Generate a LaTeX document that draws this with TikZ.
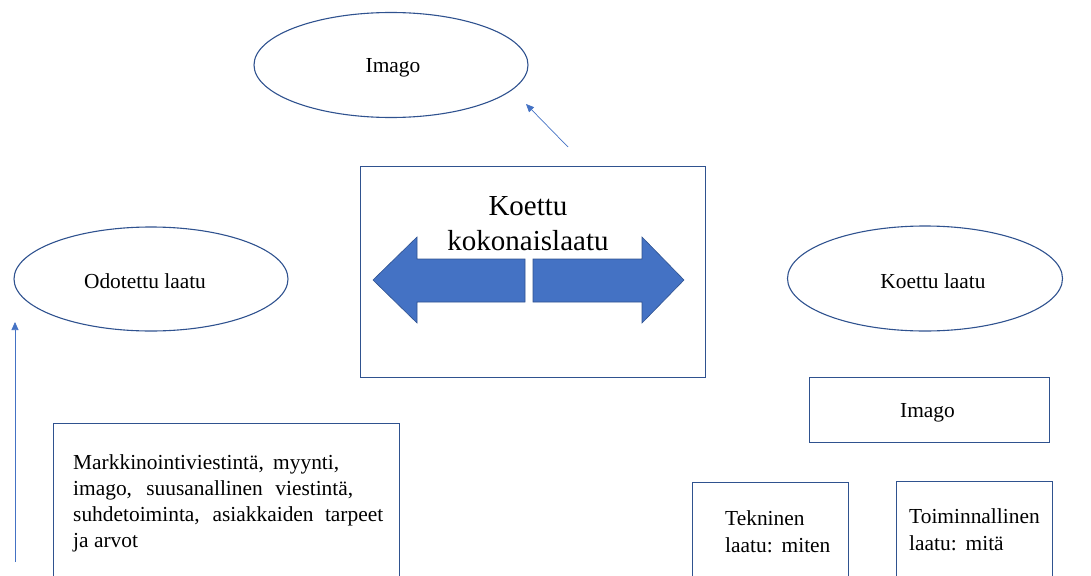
\documentclass[tikz,border=0pt]{standalone}
\usepackage{fontspec}
\setmainfont{Liberation Serif}
\usetikzlibrary{arrows.meta,shapes.geometric}
\definecolor{edge}{HTML}{2F528F}
\definecolor{accent}{HTML}{4472C4}
\tikzset{
  oval/.style={ellipse, draw=edge, line width=1.1pt, inner sep=0pt},
  panel/.style={rectangle, draw=edge, line width=1pt, inner sep=0pt},
  label/.style={font=\fontsize{21.4}{27}\selectfont, inner sep=0pt},
  biglabel/.style={font=\fontsize{29}{35}\selectfont, inner sep=0pt, align=center},
  pointer/.style={draw=accent, line width=0.7pt, -{Triangle[width=7pt,length=8pt]}},
  blockarrow/.style={fill=accent, draw=edge, line width=0.6pt, line join=miter},
}
% one line of text spread to a given width
\newcommand{\spreadline}[2]{\hbox to #1{#2}}
\begin{document}
\begin{tikzpicture}[x=1pt,y=-1pt]
\useasboundingbox (0,0) rectangle (1091,575);
\clip (0,0) rectangle (1091,575);

% ellipses
\node[oval, minimum width=274pt, minimum height=105pt] (imagoOval) at (391,65) {};
\node[label, anchor=base] (imagoTxt) at (393,73) {Imago};

\node[oval, minimum width=274pt, minimum height=104pt] (expected) at (151,279) {};
\node[label, anchor=base] (expectedTxt) at (145,288) {Odotettu laatu};

\node[oval, minimum width=275pt, minimum height=105pt] (perceived) at (925,278.5) {};
\node[label, anchor=base] (perceivedTxt) at (933,288) {Koettu laatu};

% central panel with the two block arrows
\node[panel, minimum width=345pt, minimum height=211pt] (total) at (532.5,271.5) {};
\node[biglabel, anchor=base] (totalTxt) at (528,250) {Koettu\\kokonaislaatu};

\draw[blockarrow] (525,259) -- (417,259) -- (417,237) -- (373,280) -- (417,323)
  -- (417,302) -- (525,302) -- cycle;
\draw[blockarrow] (533,259) -- (642,259) -- (642,237) -- (684,280) -- (642,323)
  -- (642,302) -- (533,302) -- cycle;

% thin pointers
\coordinate (pStart) at (568,147);
\coordinate (pEnd) at (526,104);
\draw[pointer] (pStart) -- (pEnd);

\coordinate (vStart) at (15,562);
\coordinate (vEnd) at (15,322);
\draw[pointer] (vStart) -- (vEnd);

% lower boxes
\node[panel, anchor=north west, minimum width=346pt, minimum height=200pt] (factors) at (53,423) {};
\node[anchor=base west, inner sep=0pt, align=left,
      font=\fontsize{21.4}{26}\selectfont] (factorsTxt) at (73,547)
  {\spreadline{266pt}{Markkinointiviestintä, myynti,}\\
   \spreadline{280pt}{imago, suusanallinen viestintä,}\\
   \spreadline{310pt}{suhdetoiminta, asiakkaiden tarpeet}\\
   ja arvot};

\node[panel, anchor=north west, minimum width=240pt, minimum height=65pt] (imagoBox) at (809,377) {};
\node[label, anchor=base] (imagoBoxTxt) at (927.5,417) {Imago};

\node[panel, anchor=north west, minimum width=156pt, minimum height=130pt] (technical) at (692,482) {};
\node[label, anchor=base west, align=left] (technicalTxt) at (725,552) {Tekninen\\laatu:\ \,miten};

\node[panel, anchor=north west, minimum width=156pt, minimum height=130pt] (functional) at (896,481) {};
\node[label, anchor=base west, align=left] (functionalTxt) at (909,550) {Toiminnallinen\\laatu:\ \,mitä};
\end{tikzpicture}
\end{document}
